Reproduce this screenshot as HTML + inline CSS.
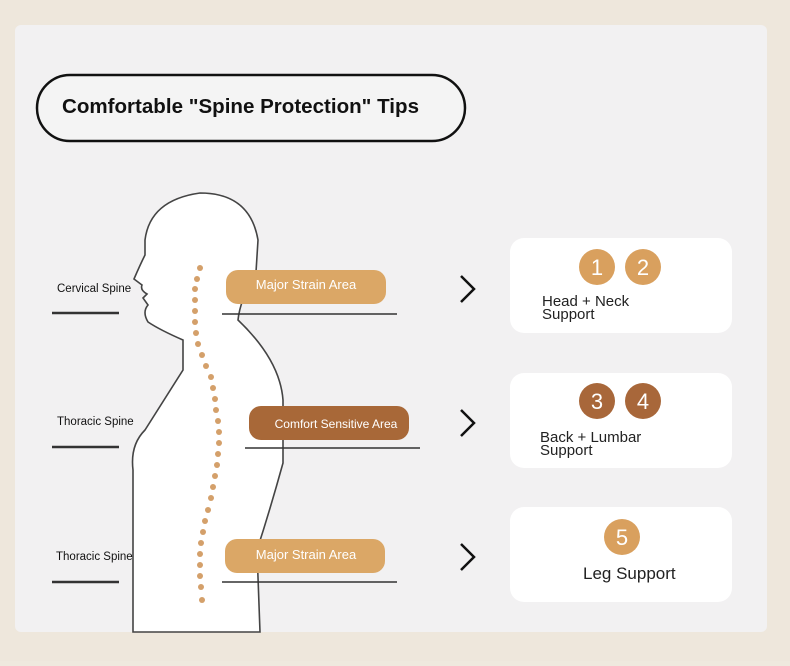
<!DOCTYPE html>
<html><head><meta charset="utf-8"><style>
body{margin:0;width:790px;height:661px;overflow:hidden;background:#efe9de;font-family:"Liberation Sans",sans-serif}
</style></head><body>
<svg width="790" height="661" viewBox="0 0 790 661" xmlns="http://www.w3.org/2000/svg" font-family="Liberation Sans, sans-serif">
<rect x="0" y="0" width="790" height="661" fill="#eee7dc"/>
<rect x="15" y="25" width="752" height="607" rx="6" fill="#f2f1f2"/>
<rect x="37" y="75" width="428" height="66" rx="33" fill="#f4f4f4" stroke="#111" stroke-width="2.5"/>
<text x="62" y="113" font-size="20.5" font-weight="bold" fill="#111" textLength="357" lengthAdjust="spacingAndGlyphs">Comfortable "Spine Protection" Tips</text>
<path d="M133 632 L133 470 Q130 445 145 430 L183 370 L183 340 Q160 330 148 322 Q142 312 148 305 L143 298 L147 294 Q140 290 142 285 L134 279 Q140 265 145 255 L145 240 Q150 200 200 193 Q250 193 258 240 L256 272 Q240 300 238 320 Q280 360 283 400 L283 463 Q270 510 257 550 L260 632 Z" fill="#fff" stroke="#444" stroke-width="1.6"/>
<g fill="#d4a06a">
<circle cx="200" cy="268" r="3"/><circle cx="197" cy="279" r="3"/><circle cx="195" cy="289" r="3"/><circle cx="195" cy="300" r="3"/><circle cx="195" cy="311" r="3"/><circle cx="195" cy="322" r="3"/><circle cx="196" cy="333" r="3"/><circle cx="198" cy="344" r="3"/><circle cx="202" cy="355" r="3"/><circle cx="206" cy="366" r="3"/><circle cx="211" cy="377" r="3"/><circle cx="213" cy="388" r="3"/><circle cx="215" cy="399" r="3"/><circle cx="216" cy="410" r="3"/><circle cx="218" cy="421" r="3"/><circle cx="219" cy="432" r="3"/><circle cx="219" cy="443" r="3"/><circle cx="218" cy="454" r="3"/><circle cx="217" cy="465" r="3"/><circle cx="215" cy="476" r="3"/><circle cx="213" cy="487" r="3"/><circle cx="211" cy="498" r="3"/><circle cx="208" cy="510" r="3"/><circle cx="205" cy="521" r="3"/><circle cx="203" cy="532" r="3"/><circle cx="201" cy="543" r="3"/><circle cx="200" cy="554" r="3"/><circle cx="200" cy="565" r="3"/><circle cx="200" cy="576" r="3"/><circle cx="201" cy="587" r="3"/><circle cx="202" cy="600" r="3"/>
</g>
<g font-size="11.5" fill="#111">
<text x="57" y="292">Cervical Spine</text>
<text x="57" y="425">Thoracic Spine</text>
<text x="56" y="560">Thoracic Spine</text>
</g>
<g stroke="#333" stroke-width="2.5">
<line x1="52" y1="313" x2="119" y2="313"/><line x1="52" y1="447" x2="119" y2="447"/><line x1="52" y1="582" x2="119" y2="582"/>
</g>
<g stroke="#333" stroke-width="1.5">
<line x1="222" y1="314" x2="397" y2="314"/><line x1="245" y1="448" x2="420" y2="448"/><line x1="222" y1="582" x2="397" y2="582"/>
</g>
<rect x="226" y="270" width="160" height="34" rx="12" fill="#dba766"/>
<text x="306" y="289" font-size="13" fill="#fff" text-anchor="middle">Major Strain Area</text>
<rect x="249" y="406" width="160" height="34" rx="12" fill="#a86838"/>
<text x="336" y="428" font-size="12" fill="#fff" text-anchor="middle">Comfort Sensitive Area</text>
<rect x="225" y="539" width="160" height="34" rx="12" fill="#dba766"/>
<text x="306" y="559" font-size="13" fill="#fff" text-anchor="middle">Major Strain Area</text>
<g fill="none" stroke="#111" stroke-width="2.5">
<path d="M461 276 L474 289 L461 302"/><path d="M461 410 L474 423 L461 436"/><path d="M461 544 L474 557 L461 570"/>
</g>
<rect x="510" y="238" width="222" height="95" rx="14" fill="#fff"/>
<rect x="510" y="373" width="222" height="95" rx="14" fill="#fff"/>
<rect x="510" y="507" width="222" height="95" rx="14" fill="#fff"/>
<g font-size="22" fill="#fff" text-anchor="middle">
<circle cx="597" cy="267" r="18" fill="#d9a05e"/><text x="597" y="275">1</text>
<circle cx="643" cy="267" r="18" fill="#d9a05e"/><text x="643" y="275">2</text>
<circle cx="597" cy="401" r="18" fill="#a8673a"/><text x="597" y="409">3</text>
<circle cx="643" cy="401" r="18" fill="#a8673a"/><text x="643" y="409">4</text>
<circle cx="622" cy="537" r="18" fill="#d9a05e"/><text x="622" y="545">5</text>
</g>
<g font-size="15" fill="#222">
<text x="542" y="306">Head + Neck</text><text x="542" y="319">Support</text>
<text x="540" y="442">Back + Lumbar</text><text x="540" y="455">Support</text>
<text x="583" y="579" font-size="17">Leg Support</text>
</g>
</svg>
</body></html>
